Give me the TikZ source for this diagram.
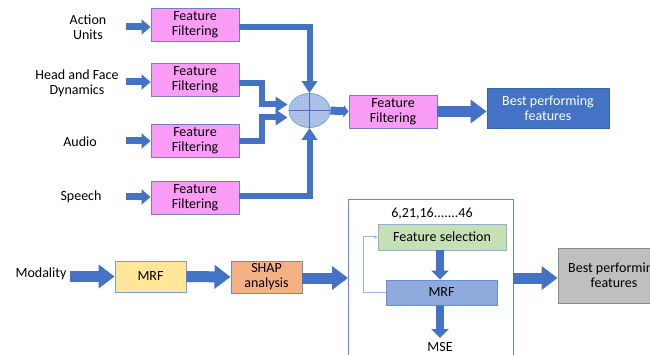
\documentclass[tikz,border=0pt]{standalone}
\usepackage{fontspec}
\setmainfont{Carlito}
\usetikzlibrary{arrows.meta,shapes.geometric,patterns}

\definecolor{arrowblue}{HTML}{4472C4}
\definecolor{pinkfill}{HTML}{FA9CF6}
\definecolor{pinkline}{HTML}{7B7DB8}
\definecolor{bestfill}{HTML}{4472C4}
\definecolor{bestline}{HTML}{3A63AE}
\definecolor{mrffill}{HTML}{FFE699}
\definecolor{shapfill}{HTML}{F4B183}
\definecolor{selfill}{HTML}{C5E0B4}
\definecolor{mrftwofill}{HTML}{8FAADC}
\definecolor{greyfill}{HTML}{BFBFBF}
\definecolor{greyline}{HTML}{8A8A8A}
\definecolor{softline}{HTML}{7F9BCF}
\definecolor{circfill}{HTML}{A7BDE6}
\definecolor{fbline}{HTML}{9DB6E2}

\tikzset{
  txt/.style={font=\fontsize{14}{15}\selectfont, align=center, inner sep=0pt},
  box/.style={txt, draw=softline, line width=0.9pt},
  pinkbox/.style={box, fill=pinkfill, draw=pinkline, minimum width=88pt, minimum height=33pt},
  inflow/.style={draw=arrowblue, line width=7pt, -{Triangle[length=9pt,width=15pt]}},
  joinflow/.style={draw=arrowblue, line width=6pt, line join=miter, -{Triangle[length=12pt,width=15pt]}},
  bigflow/.style={draw=arrowblue, line width=11pt, -{Triangle[length=16pt,width=23pt]}},
  downflow/.style={draw=arrowblue, line width=8pt, -{Triangle[length=9pt,width=17pt]}},
  fbflow/.style={draw=fbline, line width=1pt, -{Stealth[length=4pt,width=4pt]}},
}

\begin{document}
\begin{tikzpicture}[x=1pt,y=-1pt]
\useasboundingbox (0,0) rectangle (650,355);
\clip (0,0) rectangle (650,355);

% ---- modality inputs and their filters ----
\node[txt] (l1) at (88,27) {Action\\Units};
\node[txt] (l2) at (77,83) {Head and Face\\Dynamics};
\node[txt] (l3) at (80,142) {Audio};
\node[txt] (l4) at (81,197) {Speech};

\node[pinkbox] (b1) at (195,24.5) {Feature\\Filtering};
\node[pinkbox] (b2) at (195,79.5) {Feature\\Filtering};
\node[pinkbox] (b3) at (195,141) {Feature\\Filtering};
\node[pinkbox] (b4) at (195,198) {Feature\\Filtering};

\coordinate (s1) at (126,27);
\coordinate (s2) at (126,82);
\coordinate (s3) at (126,141);
\coordinate (s4) at (126,197);
\draw[inflow] (s1) -- (s1 -| b1.west);
\draw[inflow] (s2) -- (s2 -| b2.west);
\draw[inflow] (s3) -- (s3 -| b3.west);
\draw[inflow] (s4) -- (s4 -| b4.west);

% ---- fusion node ----
\node[ellipse, minimum width=41pt, minimum height=34pt, inner sep=0pt,
      fill=circfill, draw=arrowblue!70, line width=0.8pt,
      postaction={pattern=dots, pattern color=white!75!circfill}] (sum) at (309.5,110.5) {};
\draw[arrowblue, line width=0.6pt] (sum.north) -- (sum.south) (sum.west) -- (sum.east);

\draw[joinflow] ([yshift=-3pt]b1.east) -| (sum.north);
\draw[joinflow] ([yshift=-4pt]b2.east) -- ++(23,0) |- ([yshift=6pt,xshift=-1pt]sum.west);
\draw[joinflow] (b3.east) -- ++(23,0) |- ([yshift=-7pt,xshift=-1pt]sum.west);
\draw[joinflow] ([yshift=2pt]b4.east) -| (sum.south);

\node[pinkbox] (b5) at (393,111.5) {Feature\\Filtering};
\node[box, fill=bestfill, draw=bestline, text=white,
      minimum width=122pt, minimum height=40pt] (best) at (548,108) {Best performing\\features};

\draw[draw=arrowblue, line width=8pt, -{Triangle[length=5pt,width=12pt]}] (sum.east) -- (b5.west);
\draw[bigflow] (b5.east) -- (best.west |- b5.east);

% ---- SHAP based selection pipeline ----
\node[txt] (mod) at (41,274) {Modality};
\node[box, fill=mrffill, minimum width=71pt, minimum height=31pt] (mrf) at (150.5,276.5) {MRF};
\node[box, fill=shapfill, draw=arrowblue!80, minimum width=71pt, minimum height=32pt] (shap) at (266.5,277) {SHAP\\analysis};

\coordinate (m0) at (70,276.5);
\draw[bigflow] (m0) -- (mrf.west);
\draw[bigflow] (mrf.east) -- (shap.west);

% search loop container
\draw[arrowblue!85, line width=1pt] (348,200) coordinate (ctl) rectangle (513,372) coordinate (cbr);
\coordinate (cin) at (348,278);
\coordinate (cout) at (513,278);
\draw[bigflow] (shap.east |- cin) -- (cin);

\node[txt] (ids) at (432,214) {6,21,16.......46};
\node[box, fill=selfill, draw=softline!70!selfill, minimum width=128pt, minimum height=26pt] (fs) at (442,237) {Feature selection};
\node[box, fill=mrftwofill, draw=arrowblue!80, minimum width=111pt, minimum height=25pt] (mrf2) at (441.5,292.5) {MRF};
\node[txt] (mse) at (440,347) {MSE};

\draw[downflow] (fs.south -| 440,0) -- (mrf2.north -| 440,0);
\draw[downflow] (mrf2.south -| 440,0) -- (440,338);
\draw[fbflow] (mrf2.west) -- ++(-22,0) |- (fs.west);

\node[box, fill=greyfill, draw=greyline, minimum width=112pt, minimum height=55pt] (best2) at (614,275.5) {Best performing\\features};
\draw[bigflow] (cout) -- (best2.west |- cout);
\end{tikzpicture}
\end{document}
